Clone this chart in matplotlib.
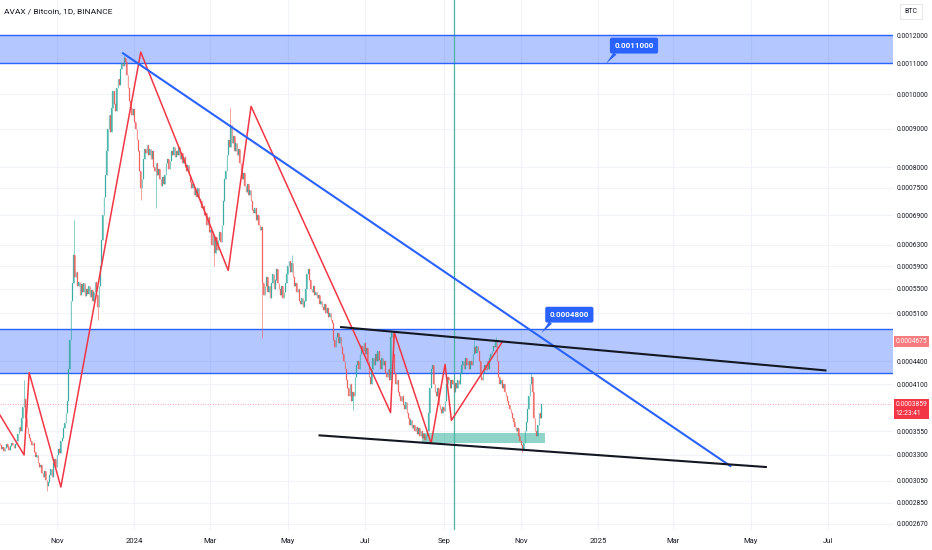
"""
Recreates a TradingView style AVAX / BTC daily chart with drawn zones and trend lines.
"""

import numpy as np
import matplotlib
matplotlib.use("Agg")
import matplotlib.pyplot as plt
import matplotlib.dates as mdates
import matplotlib.transforms as mtransforms
from matplotlib.ticker import NullLocator

plt.rcParams["font.family"] = ["Roboto", "DejaVu Sans"]

SCALE = 1e-4  # all prices below are in units of 0.0001 BTC

start_date = "2023-09-17"
first_open = 3.42
closes = [
    3.40, 3.36, 3.38, 3.34, 3.37, 3.41, 3.38, 3.35, 3.39, 3.42,
    3.40, 3.37, 3.41, 3.45, 3.52, 3.60, 3.55, 3.70, 3.82, 3.92,
    3.70, 3.60, 3.52, 3.48, 3.44, 3.40, 3.42, 3.33, 3.28, 3.30,
    3.22, 3.18, 3.20, 3.12, 3.08, 3.14, 3.06, 3.00, 3.04, 3.10,
    3.16, 3.08, 3.22, 3.26, 3.18, 3.30, 3.36, 3.32, 3.44, 3.48,
    3.58, 3.64, 3.76, 3.90, 4.30, 4.70, 5.30, 5.60, 6.10, 5.70,
    5.80, 5.55, 5.62, 5.40, 5.58, 5.45, 5.60, 5.38, 5.50, 5.42,
    5.55, 5.36, 5.48, 5.30, 5.45, 5.62, 5.40, 5.20, 5.55, 5.90,
    6.40, 6.90, 7.30, 7.80, 8.40, 9.00, 9.40, 8.90, 9.60, 10.10,
    9.70, 9.50, 10.20, 10.50, 10.30, 10.80, 11.00, 10.90, 11.20, 11.05,
    10.60, 10.20, 9.80, 9.60, 9.40, 9.55, 9.20, 9.00, 8.70, 8.40,
    7.90, 7.50, 7.70, 8.20, 8.45, 8.35, 8.55, 8.30, 8.45, 8.20,
    8.40, 8.00, 7.90, 8.10, 7.80, 7.95, 7.70, 7.55, 7.75, 7.60,
    7.80, 8.10, 8.20, 7.95, 8.15, 8.40, 8.30, 8.50, 8.25, 8.40,
    8.30, 8.50, 8.20, 8.35, 8.10, 8.25, 8.00, 7.90, 8.05, 7.80,
    7.65, 7.50, 7.60, 7.35, 7.45, 7.30, 7.50, 7.25, 7.20, 7.05,
    7.10, 6.90, 6.95, 6.70, 6.85, 6.55, 6.60, 6.30, 6.50, 6.15,
    6.45, 6.20, 6.40, 6.55, 6.35, 6.70, 7.20, 7.70, 7.90, 8.30,
    8.70, 8.50, 9.10, 8.60, 8.80, 8.40, 8.60, 8.30, 8.45, 8.10,
    7.90, 7.70, 7.85, 7.55, 7.40, 7.60, 7.35, 7.45, 7.20, 7.00,
    6.95, 7.05, 6.80, 6.90, 6.70, 6.60, 6.65, 5.60, 5.40, 5.55,
    5.70, 5.45, 5.55, 5.35, 5.60, 5.75, 5.50, 5.65, 5.85, 5.60,
    5.50, 5.40, 5.55, 5.35, 5.45, 5.60, 5.75, 5.90, 6.00, 5.80,
    5.95, 5.70, 5.55, 5.60, 5.45, 5.50, 5.30, 5.25, 5.35, 5.20,
    5.30, 5.50, 5.75, 5.85, 5.65, 5.50, 5.45, 5.55, 5.40, 5.45,
    5.35, 5.40, 5.25, 5.30, 5.20, 5.15, 5.25, 5.10, 5.18, 5.05,
    5.10, 5.00, 4.95, 4.70, 4.60, 4.75, 4.80, 4.65, 4.75, 4.60,
    4.50, 4.40, 4.30, 4.15, 4.05, 3.95, 4.10, 3.90, 4.00, 3.95,
    4.20, 4.35, 4.40, 4.30, 4.50, 4.62, 4.55, 4.65, 4.50, 4.58,
    4.40, 4.20, 4.10, 4.30, 4.45, 4.35, 4.50, 4.40, 4.55, 4.42,
    4.30, 4.45, 4.35, 4.40, 4.25, 4.20, 4.30, 4.15, 4.75, 4.80,
    4.50, 4.25, 4.10, 4.15, 4.00, 3.95, 3.90, 3.95, 3.85, 3.80,
    3.88, 3.75, 3.70, 3.62, 3.68, 3.58, 3.62, 3.55, 3.60, 3.52,
    3.58, 3.50, 3.55, 3.48, 3.52, 3.46, 3.50, 3.55, 3.75, 4.05,
    4.30, 4.35, 4.10, 4.00, 3.95, 4.05, 3.85, 3.80, 3.75, 3.82,
    3.78, 3.90, 4.10, 4.20, 4.15, 4.05, 4.15, 4.10, 4.00, 4.12,
    4.05, 4.15, 4.10, 4.25, 4.35, 4.40, 4.30, 4.45, 4.35, 4.40,
    4.30, 4.40, 4.35, 4.50, 4.60, 4.52, 4.62, 4.55, 4.40, 4.20,
    4.15, 4.25, 4.35, 4.28, 4.40, 4.30, 4.45, 4.50, 4.55, 4.62,
    4.60, 4.68, 4.40, 4.20, 4.10, 4.15, 4.05, 4.10, 4.00, 3.95,
    3.90, 3.85, 3.80, 3.75, 3.70, 3.65, 3.60, 3.55, 3.58, 3.50,
    3.45, 3.40, 3.36, 3.42, 3.55, 3.65, 3.80, 3.95, 4.10, 4.20,
    4.00, 3.70, 3.55, 3.50, 3.62, 3.75, 3.70, 3.859,
]

# notable wicks (day index, extreme price)
wick_high_days = [19, 58, 98, 181, 230, 308, 374, 391, 419]
wick_high_vals = [4.15, 6.80, 11.30, 9.60, 6.10, 4.85, 4.70, 4.75, 4.25]
wick_low_days = [37, 77, 111, 123, 169, 207, 278, 412]
wick_low_vals = [2.95, 4.99, 7.22, 7.05, 5.90, 4.73, 3.79, 3.33]

# drawings
zigzag_dates = ["2023-09-17", "2023-10-06", "2023-10-10", "2023-11-04", "2024-01-06",
                "2024-03-15", "2024-04-02", "2024-07-21", "2024-07-24", "2024-08-22",
                "2024-09-02", "2024-09-07", "2024-10-17"]
zigzag_vals = [3.73, 3.30, 4.25, 2.99, 11.39, 5.82, 9.64, 3.76, 4.81, 3.42, 4.36, 3.67, 4.67]

blue_trend_dates = ["2023-12-23", "2025-04-15"]
blue_trend_vals = [11.35, 3.19]
upper_black_dates = ["2024-06-12", "2025-06-29"]
upper_black_vals = [4.89, 4.28]
lower_black_dates = ["2024-05-26", "2025-05-13"]
lower_black_vals = [3.505, 3.18]

top_zone = (11.0, 12.0)
mid_zone = (4.245, 4.856)
support_dates = ["2024-08-15", "2024-11-20"]
support_vals = (3.42, 3.53)
marker_date = "2024-09-09"

callout_texts = ["0.0011000", "0.0004800"]
callout_anchor_dates = ["2025-01-07", "2024-11-17"]
callout_anchor_vals = [11.0, 4.80]
callout_box_dates = ["2025-01-29", "2024-12-09"]
callout_box_vals = [11.62, 5.08]

last_price = 3.859
other_price = 4.675
countdown = "12:23:41"

ytick_vals = [12.0, 11.0, 10.0, 9.0, 8.0, 7.5, 6.9, 6.3, 5.9, 5.5, 5.1, 4.4, 4.1,
              3.55, 3.3, 3.05, 2.85, 2.67]
xtick_dates = ["2023-11-01", "2024-01-01", "2024-03-01", "2024-05-01", "2024-07-01",
               "2024-09-01", "2024-11-01", "2025-01-01", "2025-03-01", "2025-05-01",
               "2025-07-01"]
xtick_labels = ["Nov", "2024", "Mar", "May", "Jul", "Sep", "Nov", "2025", "Mar", "May", "Jul"]


def dnum(d):
    return mdates.date2num(np.datetime64(d))


def main():
    UP, DOWN = "#26a69a", "#ef5350"
    BLUE = "#2962ff"
    TXT = "#131722"

    closes_p = np.array(closes) * SCALE
    opens_p = np.concatenate([[first_open * SCALE], closes_p[:-1]])
    days = np.datetime64(start_date) + np.arange(len(closes_p))
    x = mdates.date2num(days)
    body_lo = np.minimum(opens_p, closes_p)
    body_hi = np.maximum(opens_p, closes_p)
    highs = body_hi.copy()
    lows = body_lo.copy()
    for d, v in zip(wick_high_days, wick_high_vals):
        highs[d] = max(highs[d], v * SCALE)
    for d, v in zip(wick_low_days, wick_low_vals):
        lows[d] = min(lows[d], v * SCALE)

    fig = plt.figure(figsize=(9.32, 5.5), dpi=100)
    ax = fig.add_axes([0, 20 / 550, 893 / 932, 530 / 550])
    ax.set_yscale("log")
    ax.set_ylim(0.000262, 0.001337)
    x0 = dnum(start_date)
    ax.set_xlim(x0, x0 + 893 / 1.268)

    # zones
    for lo, hi in (top_zone, mid_zone):
        ax.axhspan(lo * SCALE, hi * SCALE, color=BLUE, alpha=0.35, lw=0, zorder=1)
        ax.axhline(lo * SCALE, color=BLUE, lw=1.0, zorder=1.5)
        ax.axhline(hi * SCALE, color=BLUE, lw=1.0, zorder=1.5)
    ax.fill_between([dnum(d) for d in support_dates], support_vals[0] * SCALE,
                    support_vals[1] * SCALE, color="#22ab94", alpha=0.5, lw=0, zorder=1.2)
    ax.axvline(dnum(marker_date), color="#4fb3a3", lw=0.9, zorder=1.3)
    ax.axhline(last_price * SCALE, color="#f23645", lw=0.6, ls=(0, (1, 2)), alpha=0.6,
               zorder=1.4)

    # candles
    colors = np.where(closes_p >= opens_p, UP, DOWN)
    ax.vlines(x, lows, highs, colors=colors, lw=0.5, alpha=0.75, zorder=2)
    ax.bar(x, body_hi - body_lo, bottom=body_lo, width=0.6, color=colors,
           edgecolor=colors, lw=0.2, alpha=0.75, zorder=2)

    # drawings
    ax.plot([dnum(d) for d in zigzag_dates], np.array(zigzag_vals) * SCALE,
            color="#f23645", lw=1.1, zorder=3)
    ax.plot([dnum(d) for d in blue_trend_dates], np.array(blue_trend_vals) * SCALE,
            color=BLUE, lw=1.5, zorder=3)
    ax.plot([dnum(d) for d in upper_black_dates], np.array(upper_black_vals) * SCALE,
            color="#131722", lw=1.5, zorder=3)
    ax.plot([dnum(d) for d in lower_black_dates], np.array(lower_black_vals) * SCALE,
            color="#131722", lw=1.5, zorder=3)

    for t, ad, av, bd, bv in zip(callout_texts, callout_anchor_dates, callout_anchor_vals,
                                 callout_box_dates, callout_box_vals):
        ax.annotate(t, xy=(dnum(ad), av * SCALE), xytext=(dnum(bd), bv * SCALE),
                    ha="center", va="center", color="white", fontsize=5.8,
                    fontweight="bold", zorder=6,
                    bbox=dict(boxstyle="round,pad=0.55,rounding_size=0.25", fc=BLUE, ec="none"),
                    arrowprops=dict(arrowstyle="wedge,tail_width=0.45", fc=BLUE, ec="none",
                                    shrinkA=0, shrinkB=0, relpos=(0.12, 0.0)))

    # axes styling
    for s in ax.spines.values():
        s.set_visible(False)
    ax.yaxis.tick_right()
    ax.yaxis.set_minor_locator(NullLocator())
    ax.set_yticks([v * SCALE for v in ytick_vals],
                  [f"{v * SCALE:.7f}" for v in ytick_vals])
    ax.set_xticks([dnum(d) for d in xtick_dates], xtick_labels)
    ax.tick_params(axis="y", length=0, pad=2.5, labelsize=4.8, labelcolor=TXT)
    ax.tick_params(axis="x", length=0, pad=6, labelsize=5.5, labelcolor=TXT)
    ax.grid(True, color="#f0f3fa", lw=0.8, zorder=0)
    ax.set_axisbelow(True)

    # price labels on the scale
    trans = mtransforms.blended_transform_factory(ax.transAxes, ax.transData)
    ax.text(1.003, other_price * SCALE, f"{other_price * SCALE:.7f}", transform=trans,
            ha="left", va="center", fontsize=4.8, color="white", clip_on=False, zorder=7,
            bbox=dict(boxstyle="square,pad=0.3", fc="#f77c80", ec="none"))
    ax.annotate(f"{last_price * SCALE:.7f}\n{countdown}", xy=(1.003, last_price * SCALE),
                xycoords=trans, xytext=(0, -3.6), textcoords="offset points",
                ha="left", va="center", fontsize=4.8, color="white", linespacing=1.3,
                annotation_clip=False, zorder=7,
                bbox=dict(boxstyle="square,pad=0.3", fc="#f23645", ec="none"))

    fig.text(4 / 932, 1 - 11 / 550, "AVAX / Bitcoin, 1D, BINANCE", ha="left", va="center",
             fontsize=6, color=TXT)
    fig.text(911 / 932, 1 - 11.5 / 550, "BTC", ha="center", va="center", fontsize=5,
             color=TXT, bbox=dict(boxstyle="square,pad=0.6", fc="white", ec="#e0e3eb", lw=0.6))

    fig.savefig("out.png", dpi=100)


if __name__ == "__main__":
    main()
